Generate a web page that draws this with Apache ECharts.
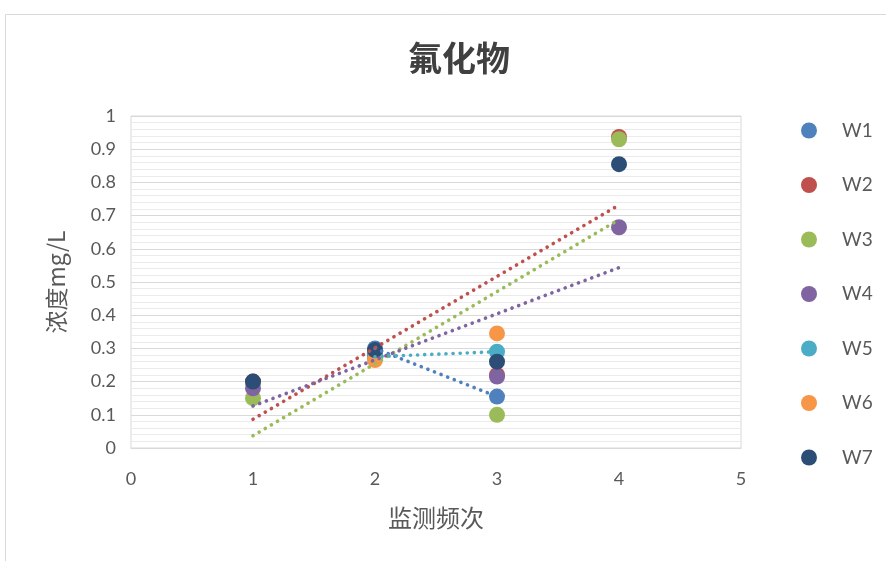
<!DOCTYPE html>
<html>
<head>
<meta charset="utf-8">
<script src="https://cdn.jsdelivr.net/npm/echarts@6/dist/echarts.min.js"></script>
<style>
html,body{margin:0;padding:0;background:#fff;}
#chart{width:886px;height:561px;}
</style>
</head>
<body>
<div id="chart"></div>
<script>
// 监测频次 (x) values per series, and concentrations (mg/L)
var seriesNames = ['W1','W2','W3','W4','W5','W6','W7'];
var colors = ['#4F81BD','#C0504D','#9BBB59','#8064A2','#4BACC6','#F79646','#2C4D75'];
var xW1 = [2, 3];          var yW1 = [0.30, 0.155];
var xW2 = [1, 2, 3, 4];    var yW2 = [0.20, 0.28, 0.22, 0.937];
var xW3 = [1, 2, 3, 4];    var yW3 = [0.15, 0.27, 0.10, 0.93];
var xW4 = [1, 2, 3, 4];    var yW4 = [0.18, 0.28, 0.215, 0.665];
var xW5 = [2, 3];          var yW5 = [0.275, 0.29];
var xW6 = [2, 3];          var yW6 = [0.265, 0.345];
var xW7 = [1, 2, 3, 4];    var yW7 = [0.20, 0.295, 0.26, 0.855];
var trendSeries = ['W1','W2','W3','W4','W5'];
var xTicks = [0, 1, 2, 3, 4, 5];
var yTicks = [0, 0.1, 0.2, 0.3, 0.4, 0.5, 0.6, 0.7, 0.8, 0.9, 1];

var xs = {W1:xW1,W2:xW2,W3:xW3,W4:xW4,W5:xW5,W6:xW6,W7:xW7};
var ys = {W1:yW1,W2:yW2,W3:yW3,W4:yW4,W5:yW5,W6:yW6,W7:yW7};

function pairs(name){
  return xs[name].map(function(x,i){return [x, ys[name][i]];});
}
function linFit(name){
  var x = xs[name], y = ys[name], n = x.length;
  var mx = 0, my = 0;
  for (var i=0;i<n;i++){mx+=x[i];my+=y[i];}
  mx/=n; my/=n;
  var sxy=0, sxx=0;
  for (var j=0;j<n;j++){sxy+=(x[j]-mx)*(y[j]-my);sxx+=(x[j]-mx)*(x[j]-mx);}
  var b = sxy/sxx, a = my - b*mx;
  var x0 = Math.min.apply(null,x), x1 = Math.max.apply(null,x);
  return [[x0, a+b*x0],[x1, a+b*x1]];
}

var series = [];
seriesNames.forEach(function(n,i){
  series.push({
    name:n, type:'scatter', data:pairs(n), symbol:'circle', symbolSize:16,
    itemStyle:{color:colors[i], opacity:1}, z:2
  });
});
trendSeries.forEach(function(n){
  var i = seriesNames.indexOf(n);
  series.push({
    name:n+'趋势', type:'line', data:linFit(n), showSymbol:false, symbol:'none',
    silent:true, z:3,
    lineStyle:{color:colors[i], width:3.6, type:[0.1,7], cap:'round'}
  });
});

var chart = echarts.init(document.getElementById('chart'));
var labelFont = 'Lato, "Liberation Sans", sans-serif';
chart.setOption({
  animation:false,
  backgroundColor:'#fff',
  color:colors,
  title:{
    text:'氟化物', left:454, top:36, textAlign:'center',
    textStyle:{fontFamily:'"Noto Sans CJK SC"', fontSize:34, fontWeight:'bold', color:'#404040'}
  },
  graphic:[{
    type:'rect', shape:{x:5.5, y:14.5, width:1000, height:1000},
    style:{fill:'none', stroke:'#D9D9D9', lineWidth:1}, silent:true, z:-1
  }],
  legend:{
    data:seriesNames, orient:'vertical', left:796, top:116,
    icon:'circle', itemWidth:16, itemHeight:16, itemGap:35.5,
    textStyle:{fontFamily:labelFont, fontSize:19, color:'#595959', padding:[0,0,0,20]},
    itemStyle:{borderWidth:0}
  },
  grid:{left:131, right:145, top:116, bottom:113, show:true, borderColor:'#D9D9D9', borderWidth:1},
  xAxis:{
    type:'value', min:0, max:5, interval:1,
    name:'监测频次', nameLocation:'middle', nameGap:58,
    nameTextStyle:{fontFamily:'"Noto Sans CJK SC"', fontSize:24, color:'#595959'},
    axisLine:{show:true, lineStyle:{color:'#D9D9D9'}},
    axisTick:{show:false},
    axisLabel:{fontFamily:labelFont, fontSize:18, color:'#595959', margin:22,
      formatter:function(v){return xTicks.indexOf(v)>=0 ? String(v) : '';}},
    splitLine:{show:false}
  },
  yAxis:{
    type:'value', min:0, max:1, interval:0.1,
    name:'浓度mg/L', nameLocation:'middle', nameGap:63,
    nameTextStyle:{fontFamily:'"Noto Sans CJK SC"', fontSize:23, color:'#595959'},
    axisLine:{show:false}, axisTick:{show:false},
    axisLabel:{fontFamily:labelFont, fontSize:18, color:'#595959', margin:15,
      formatter:function(v){
        var r = Math.round(v*10)/10;
        return yTicks.indexOf(r)>=0 ? String(r) : '';
      }},
    splitLine:{show:true, lineStyle:{color:'#D9D9D9', width:1}},
    minorTick:{show:false, splitNumber:5},
    minorSplitLine:{show:true, lineStyle:{color:'#EBEBEB', width:1}}
  },
  series:series
});
</script>
</body>
</html>
